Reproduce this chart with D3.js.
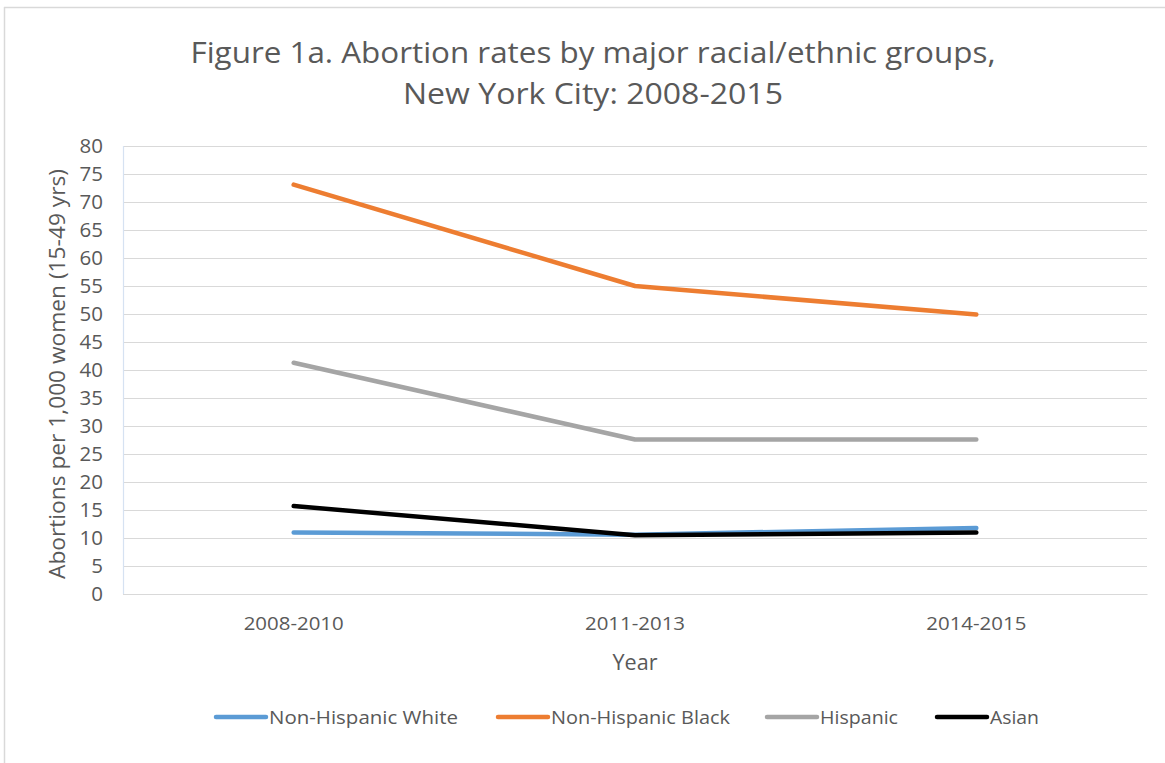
<!DOCTYPE html>
<html>
<head>
<meta charset="utf-8">
<script src="https://cdn.jsdelivr.net/npm/d3@7"></script>
<style>
  html, body { margin: 0; padding: 0; background: #ffffff; }
  svg { display: block; }
  text { font-family: "Open Sans", "Noto Sans", sans-serif; fill: #595959; }
</style>
</head>
<body>
<svg id="chart" width="1165" height="763"></svg>
<script>
// Periods on the category axis
const periods = ["2008-2010", "2011-2013", "2014-2015"];

// Abortion rates per 1,000 women aged 15-49
const nhWhite = [11.0, 10.6, 11.8];
const nhBlack = [73.1, 55.0, 49.9];
const hispanic = [41.3, 27.6, 27.6];
const asian = [15.7, 10.5, 11.0];

const seriesNames = ["Non-Hispanic White", "Non-Hispanic Black", "Hispanic", "Asian"];
const seriesColors = ["#5B9BD5", "#ED7D31", "#A5A5A5", "#000000"];

// Y axis ticks
const yTicks = [0, 5, 10, 15, 20, 25, 30, 35, 40, 45, 50, 55, 60, 65, 70, 75, 80];

const titleLines = ["Figure 1a. Abortion rates by major racial/ethnic groups,", "New York City: 2008-2015"];
const yTitle = "Abortions per 1,000 women (15-49 yrs)";
const xTitle = "Year";

const series = seriesNames.map((name, i) => ({
  name,
  color: seriesColors[i],
  values: [nhWhite, nhBlack, hispanic, asian][i]
}));

const svg = d3.select("#chart");

// Outer chart frame (left and top edges visible)
svg.append("line").attr("x1", 4.5).attr("x2", 4.5).attr("y1", 7).attr("y2", 763)
  .attr("stroke", "#d9d9d9").attr("stroke-width", 1.5);
svg.append("line").attr("x1", 4).attr("x2", 1165).attr("y1", 7.5).attr("y2", 7.5)
  .attr("stroke", "#d9d9d9").attr("stroke-width", 1.5);

const plot = { left: 123, right: 1147, top: 146, bottom: 594 };

const x = d3.scaleBand().domain(periods).range([plot.left, plot.right]);
const y = d3.scaleLinear().domain([0, 80]).range([plot.bottom, plot.top]);

// Title
const title = svg.append("g");
title.append("text").attr("x", 593).attr("y", 63).attr("text-anchor", "middle")
  .attr("font-size", 30).attr("textLength", 805).attr("lengthAdjust", "spacingAndGlyphs")
  .text(titleLines[0]);
title.append("text").attr("x", 593).attr("y", 104).attr("text-anchor", "middle")
  .attr("font-size", 30).attr("textLength", 380).attr("lengthAdjust", "spacingAndGlyphs")
  .text(titleLines[1]);

// Horizontal gridlines
svg.append("g")
  .attr("transform", `translate(${plot.left},0)`)
  .call(d3.axisLeft(y).tickValues(yTicks).tickSize(-(plot.right - plot.left)).tickFormat(""))
  .call(g => g.select(".domain").remove())
  .call(g => g.selectAll(".tick line").attr("stroke", "#d9d9d9").attr("stroke-width", 1.2));

// Y axis labels
svg.append("g")
  .attr("transform", `translate(${plot.left},0)`)
  .call(d3.axisLeft(y).tickValues(yTicks).tickSize(0).tickPadding(20))
  .call(g => g.select(".domain").remove())
  .call(g => g.selectAll(".tick text")
    .attr("font-size", 20.5).attr("fill", "#595959")
    .style("font-family", '"Open Sans", sans-serif'));

// Vertical axis line
svg.append("line").attr("x1", plot.left + 0.5).attr("x2", plot.left + 0.5)
  .attr("y1", plot.top).attr("y2", plot.bottom)
  .attr("stroke", "#d6e2f2").attr("stroke-width", 1.2);

// X axis
svg.append("g")
  .attr("transform", `translate(0,${plot.bottom})`)
  .call(d3.axisBottom(x).tickSize(0).tickPadding(23))
  .call(g => g.select(".domain").attr("stroke", "#d9d9d9").attr("stroke-width", 1.2))
  .call(g => g.selectAll(".tick text")
    .attr("font-size", 19).attr("fill", "#595959")
    .attr("textLength", 100).attr("lengthAdjust", "spacingAndGlyphs")
    .style("font-family", '"Open Sans", sans-serif'));

// Axis titles
svg.append("text").attr("x", 635).attr("y", 670).attr("text-anchor", "middle")
  .attr("font-size", 21).attr("textLength", 45).attr("lengthAdjust", "spacingAndGlyphs")
  .text(xTitle);
svg.append("text")
  .attr("transform", `translate(65,${(plot.top + plot.bottom) / 2 + 4}) rotate(-90)`)
  .attr("text-anchor", "middle").attr("font-size", 21)
  .attr("textLength", 410).attr("lengthAdjust", "spacingAndGlyphs")
  .text(yTitle);

// Series lines
const line = d3.line()
  .x((d, i) => x(periods[i]) + x.bandwidth() / 2)
  .y(d => y(d));

svg.append("g").selectAll("path")
  .data(series)
  .join("path")
  .attr("d", d => line(d.values))
  .attr("fill", "none")
  .attr("stroke", d => d.color)
  .attr("stroke-width", 4.5)
  .attr("stroke-linejoin", "round")
  .attr("stroke-linecap", "round");

// Legend: swatch start positions and label widths
const legendX = [216, 498, 767, 937];
const legendTextW = [189, 179, 78, 49];
const legend = svg.append("g").attr("transform", "translate(0,717)");
const items = legend.selectAll("g").data(series).join("g")
  .attr("transform", (d, i) => `translate(${legendX[i]},0)`);
items.append("line").attr("x1", 0).attr("x2", 50).attr("y1", 0).attr("y2", 0)
  .attr("stroke", d => d.color).attr("stroke-width", 4.5).attr("stroke-linecap", "round");
items.append("text").attr("x", 53).attr("y", 7).attr("font-size", 19)
  .attr("textLength", (d, i) => legendTextW[i]).attr("lengthAdjust", "spacingAndGlyphs")
  .text(d => d.name);
</script>
</body>
</html>
